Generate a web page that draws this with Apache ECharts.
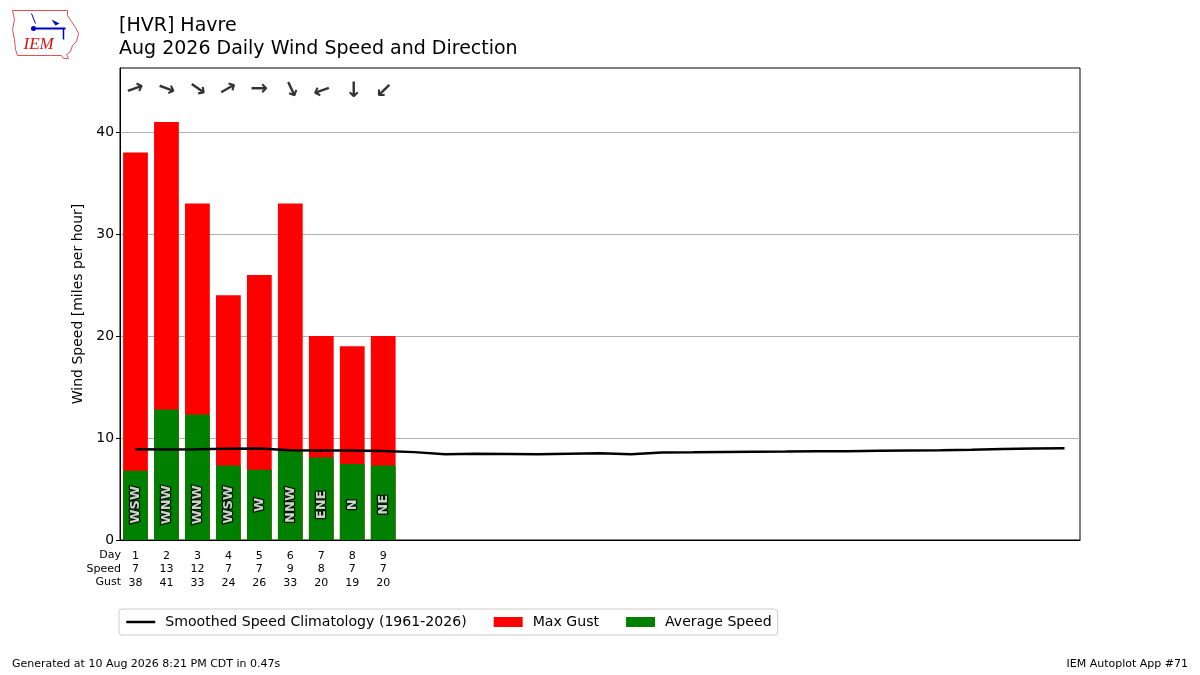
<!DOCTYPE html>
<html>
<head>
<meta charset="utf-8">
<script src="https://cdn.jsdelivr.net/npm/echarts@6/dist/echarts.min.js"></script>
<style>
html,body{margin:0;padding:0;background:#fff;}
#chart{width:1200px;height:675px;}
</style>
</head>
<body>
<div id="chart"></div>
<script>
// ---- data ----
const days = ['1','2','3','4','5','6','7','8','9','10','11','12','13','14','15','16','17','18','19','20','21','22','23','24','25','26','27','28','29','30','31'];
const avgSpeed = [6.8, 12.8, 12.3, 7.3, 6.9, 8.7, 8.1, 7.45, 7.3];
const maxGust = [38, 41, 33, 24, 26, 33, 20, 19, 20];
const dirFrom = [250, 290, 305, 240, 270, 335, 70, 0, 45];
const dirText = ['WSW', 'WNW', 'WNW', 'WSW', 'W', 'NNW', 'ENE', 'N', 'NE'];
const climo = [8.89, 8.88, 8.90, 8.95, 8.98, 8.80, 8.78, 8.78, 8.72, 8.62,
               8.40, 8.45, 8.43, 8.40, 8.46, 8.52, 8.42, 8.58, 8.60, 8.63,
               8.65, 8.67, 8.70, 8.70, 8.75, 8.78, 8.80, 8.86, 8.93, 8.97, 9.00];
const rowHeaders = ['Day', 'Speed', 'Gust'];
const yTicks = [0, 10, 20, 30, 40];

const FONT = 'DejaVu Sans';
const chart = echarts.init(document.getElementById('chart'));

const arrowData = dirFrom.map((d, i) => {
  const to = (d + 180) % 360;
  return { value: [i, 44.2], label: { rotate: 90 - to } };
});
const dirData = dirText.map((t, i) => ({ value: [i, 3.45], name: t }));

const option = {
  animation: false,
  backgroundColor: '#ffffff',
  textStyle: { fontFamily: FONT },
  title: {
    text: '[HVR] Havre\nAug 2026 Daily Wind Speed and Direction',
    left: 119, top: 15, padding: 0,
    textStyle: { fontFamily: FONT, fontSize: 19, fontWeight: 'normal', color: '#000', lineHeight: 23 }
  },
  legend: {
    left: 119, top: 609,
    padding: [6, 6, 6, 6],
    itemGap: 27,
    itemWidth: 29, itemHeight: 10,
    borderColor: '#cccccc', borderWidth: 1, borderRadius: 3,
    textStyle: { fontFamily: FONT, fontSize: 14.1, color: '#000', padding: [0, 0, 0, 5] },
    data: [
      { name: 'Smoothed Speed Climatology (1961-2026)', itemStyle: { opacity: 0 }, lineStyle: { width: 2.5, color: '#000' } },
      { name: 'Max Gust', icon: 'rect' },
      { name: 'Average Speed', icon: 'rect' }
    ]
  },
  grid: { left: 120, right: 120, top: 68, bottom: 135, show: true, borderColor: '#000', borderWidth: 1, backgroundColor: 'transparent' },
  xAxis: {
    type: 'category',
    data: days,
    boundaryGap: true,
    axisLine: { show: true, lineStyle: { color: '#000', width: 1 } },
    axisTick: { show: false },
    splitLine: { show: false },
    axisLabel: {
      margin: 9,
      interval: 0,
      fontFamily: FONT, fontSize: 11, color: '#000', lineHeight: 13.5,
      formatter: function (v, idx) {
        if (idx >= maxGust.length) return '';
        return days[idx] + '\n' + Math.round(avgSpeed[idx]) + '\n' + maxGust[idx];
      }
    }
  },
  yAxis: {
    type: 'value',
    min: 0, max: 46.3, interval: 10,
    name: 'Wind Speed [miles per hour]',
    nameLocation: 'middle', nameGap: 34,
    nameTextStyle: { fontFamily: FONT, fontSize: 14, color: '#000' },
    axisLine: { show: true, lineStyle: { color: '#000' } },
    axisTick: { show: true, length: 4, lineStyle: { color: '#000' }, customValues: yTicks },
    axisLabel: {
      fontFamily: FONT, fontSize: 13.9, color: '#000', margin: 6,
      customValues: yTicks,
      formatter: function (v) { return yTicks.indexOf(v) >= 0 ? String(v) : ''; }
    },
    splitLine: { show: true, lineStyle: { color: '#b0b0b0', width: 1 } }
  },
  series: [
    {
      name: 'Max Gust', type: 'bar', data: maxGust,
      barCategoryGap: '20%', barGap: '-100%',
      itemStyle: { color: '#ff0000' }, z: 2
    },
    {
      name: 'Average Speed', type: 'bar', data: avgSpeed,
      barCategoryGap: '20%', barGap: '-100%',
      itemStyle: { color: '#008000' }, z: 3
    },
    {
      name: 'Smoothed Speed Climatology (1961-2026)', type: 'line', data: climo,
      symbol: 'none', lineStyle: { color: '#000', width: 2.5 },
      itemStyle: { color: '#000' }, z: 5
    },
    {
      name: 'arrows', type: 'scatter', data: arrowData,
      symbolSize: 0, silent: true, z: 6,
      label: {
        show: true, position: 'inside', formatter: '\u2192',
        fontFamily: FONT, fontSize: 21, fontWeight: 'bold', color: '#000'
      }
    },
    {
      name: 'dirs', type: 'scatter', data: dirData,
      symbolSize: 0, silent: true, z: 6,
      label: {
        show: true, position: 'inside', rotate: 90,
        formatter: function (p) { return p.name; },
        fontFamily: FONT, fontSize: 13, fontWeight: 'bold', color: '#fff',
        textBorderColor: '#000', textBorderWidth: 2.5
      }
    }
  ],
  graphic: [
    // row headers of the table under the x axis
    { type: 'text', right: 1200 - 121, top: 550, style: { text: rowHeaders[0], font: '11px "DejaVu Sans"', fill: '#000', textAlign: 'right' } },
    { type: 'text', right: 1200 - 121, top: 563.5, style: { text: rowHeaders[1], font: '11px "DejaVu Sans"', fill: '#000', textAlign: 'right' } },
    { type: 'text', right: 1200 - 121, top: 577, style: { text: rowHeaders[2], font: '11px "DejaVu Sans"', fill: '#000', textAlign: 'right' } },
    // footer
    { type: 'text', left: 12, top: 659, style: { text: 'Generated at 10 Aug 2026 8:21 PM CDT in 0.47s', font: '11px "DejaVu Sans"', fill: '#000' } },
    { type: 'text', right: 12, top: 659, style: { text: 'IEM Autoplot App #71', font: '11px "DejaVu Sans"', fill: '#000' } },
    // logo
    {
      type: 'group', left: 10, top: 8,
      children: [
        { type: 'polyline', shape: { points: [[1,1],[56,1],[56,6],[60,12],[64,18],[67,24],[65,32],[61,36],[59,42],[55,45],[57,49],[52,49],[50,46],[6,46],[4,40],[3,30],[1,20],[3,10],[1,1]] },
          style: { stroke: '#e05050', fill: 'none', lineWidth: 1 } },
        { type: 'line', shape: { x1: 20, y1: 19, x2: 54, y2: 19 }, style: { stroke: '#0000cc', lineWidth: 2 } },
        { type: 'circle', shape: { cx: 22, cy: 19, r: 2.5 }, style: { fill: '#0000cc' } },
        { type: 'polygon', shape: { points: [[40,10],[48,14],[44,16]] }, style: { fill: '#0000cc' } },
        { type: 'line', shape: { x1: 52, y1: 19, x2: 52, y2: 30 }, style: { stroke: '#0000cc', lineWidth: 1.5 } },
        { type: 'line', shape: { x1: 20, y1: 4, x2: 24, y2: 14 }, style: { stroke: '#0000cc', lineWidth: 1 } },
        { type: 'text', left: 12, top: 27, style: { text: 'IEM', font: 'italic 17px "Liberation Serif"', fill: '#dd1111' } }
      ]
    }
  ]
};
chart.setOption(option);
</script>
</body>
</html>
